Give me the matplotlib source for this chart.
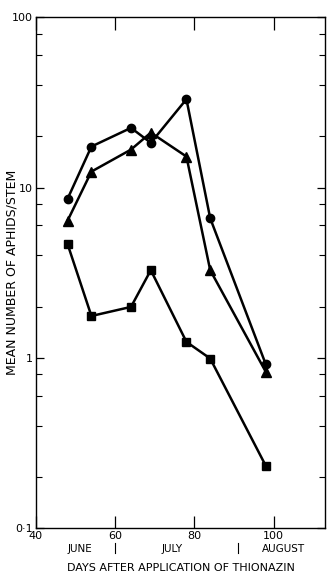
import numpy as np
import matplotlib
matplotlib.use("Agg")
import matplotlib.pyplot as plt
from matplotlib.ticker import FixedLocator, NullFormatter

# sampling days after thionazin application
days = [48, 54, 64, 69, 78, 84, 98]

# mean aphids per stem for the three plots
circles = [8.6, 17.4, 22.4, 18.3, 33.0, 6.6, 0.92]
triangles = [6.4, 12.4, 16.7, 21.0, 15.2, 3.27, 0.83]
squares = [4.64, 1.76, 1.99, 3.27, 1.24, 0.99, 0.233]

x_ticks = [40, 60, 80, 100]
y_ticks = [0.1, 1, 10, 100]
y_tick_labels = ["0\u00b71", "1", "10", "100"]
months = ["JUNE", "JULY", "AUGUST"]
month_pos = [51, 74.5, 102.5]
month_breaks = [60, 91]

fig = plt.figure(figsize=(3.27, 5.74), dpi=100)
ax = fig.add_axes([0.110, 0.080, 0.884, 0.890])

ax.plot(days, circles, color="black", lw=1.8, marker="o", ms=6)
ax.plot(days, triangles, color="black", lw=1.8, marker="^", ms=6.5)
ax.plot(days, squares, color="black", lw=1.8, marker="s", ms=5.5)

ax.set_yscale("log")
ax.set_ylim(0.1, 100)
ax.set_xlim(40, 113)

ax.set_xticks(x_ticks)
ax.set_xticklabels([str(t) for t in x_ticks], fontsize=8)
ax.set_yticks(y_ticks)
ax.set_yticklabels(y_tick_labels, fontsize=8)
minor = [m * 10.0 ** e for e in (-1, 0, 1) for m in (2, 4, 6, 8)]
ax.yaxis.set_minor_locator(FixedLocator(minor))
ax.yaxis.set_minor_formatter(NullFormatter())

ax.tick_params(axis="both", which="major", direction="in", length=6,
               width=0.9, top=True, right=True, pad=2)
ax.tick_params(axis="y", which="minor", direction="in", length=4,
               width=0.8, left=True, right=True)
ax.tick_params(axis="x", which="major", length=9)
for s in ax.spines.values():
    s.set_linewidth(1.0)

trans = ax.get_xaxis_transform()
for name, xp in zip(months, month_pos):
    ax.text(xp, -0.04, name, transform=trans, ha="center", va="center",
            fontsize=7.5)
for xb in month_breaks:
    ax.plot([xb, xb], [-0.029, -0.049], transform=trans, color="black",
            lw=0.8, clip_on=False)

ax.text(0.5, -0.078, "DAYS AFTER APPLICATION OF THIONAZIN",
        transform=ax.transAxes, ha="center", va="center", fontsize=8)
ax.set_ylabel("MEAN NUMBER OF APHIDS/STEM", fontsize=9)
ax.yaxis.set_label_coords(-0.06, 0.5)

fig.savefig("out.png", dpi=100)
